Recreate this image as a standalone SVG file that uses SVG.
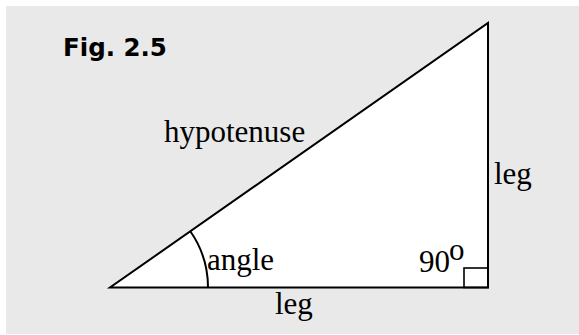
<svg xmlns="http://www.w3.org/2000/svg" width="579" height="335" viewBox="0 0 579 335">
<style>
.lbl{font-family:"Liberation Serif","Times New Roman",serif;font-size:31px;fill:#000}
.ln{fill:none;stroke:#000;stroke-width:2}
</style>
<rect x="0" y="0" width="579" height="335" fill="#ffffff"/>
<rect x="6" y="6" width="573" height="328" fill="#e9e9e9"/>
<text x="63" y="56" font-family="'DejaVu Sans','Liberation Sans',sans-serif" font-weight="bold" font-size="24.5" fill="#000">Fig. 2.5</text>
<g id="triangle">
<polygon points="110,287.5 488,287.5 488,23" fill="#ffffff" stroke="#000" stroke-width="2" stroke-linejoin="miter"/>
</g>
<g id="connectors">
<path class="ln" d="M190.3,231.3 A98,98 0 0 1 208,287.5" stroke-width="1.6"/>
<rect x="464" y="268" width="24" height="19.5" fill="none" stroke="#000" stroke-width="1.6"/>
</g>
<g id="labels">
<text class="lbl" x="164" y="141.5">hypotenuse</text>
<text class="lbl" x="494" y="184">leg</text>
<text class="lbl" x="275" y="314">leg</text>
<text class="lbl" x="207" y="269.5">angle</text>
<text class="lbl" x="419" y="271.5">90</text>
<text class="lbl" x="449" y="260" font-size="23">o</text>
</g>
</svg>
